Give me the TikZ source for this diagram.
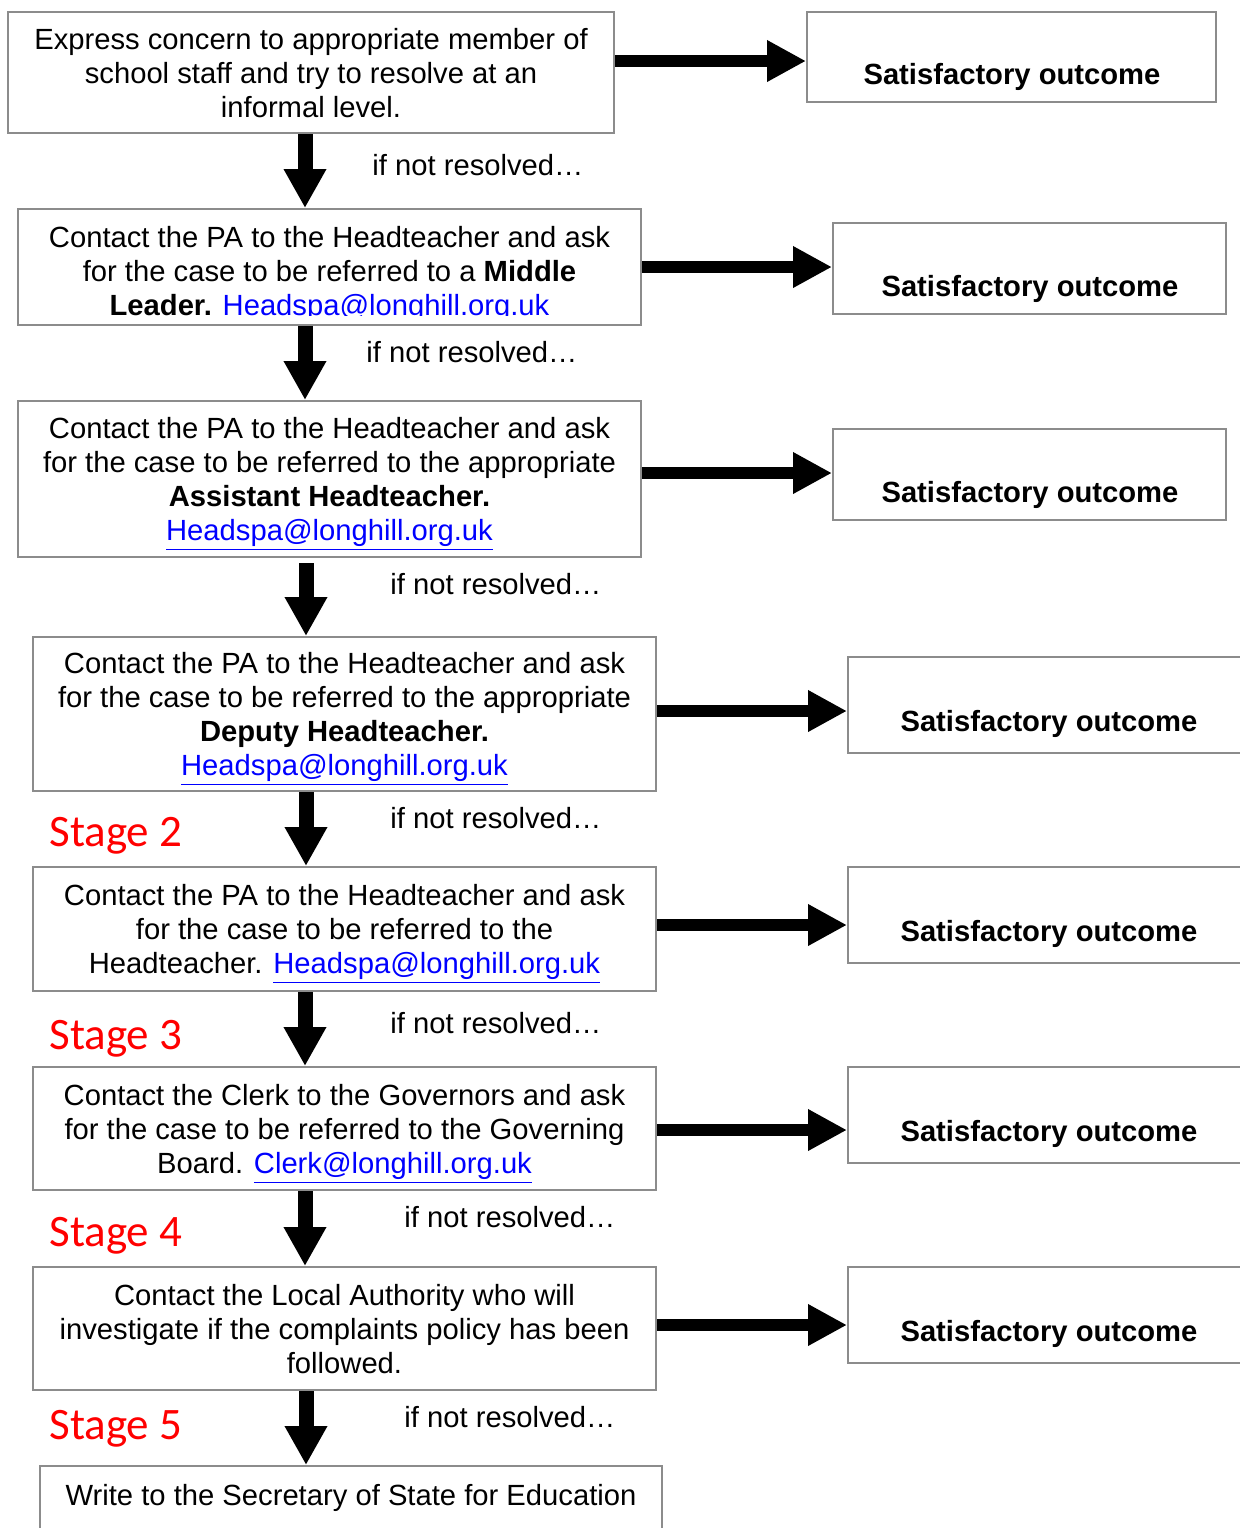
\documentclass[tikz,border=0pt]{standalone}
\usepackage{fontspec}
\setmainfont{Liberation Sans}
\newfontfamily\stagefont{Carlito}
\usetikzlibrary{arrows.meta}
\definecolor{boxgray}{HTML}{8C8C8C}
\definecolor{linkblue}{HTML}{0000FF}
\definecolor{stagered}{HTML}{FF0000}
\newcommand{\mailto}[1]{\textcolor{linkblue}{\underline{#1}}}
\begin{document}
\begin{tikzpicture}[x=0.5pt,y=-0.5pt,
  box/.style={draw=boxgray, line width=1pt, inner sep=0pt, align=center, text depth=-2pt, font=\fontsize{14.6}{17}\selectfont},
  boxtxt/.style={inner sep=0pt, align=center, font=\fontsize{14.6}{17}\selectfont},
  txt/.style={inner sep=0pt, font=\fontsize{14.6}{17}\selectfont},
  sattxt/.style={inner sep=0pt, font=\fontsize{14.6}{17}\selectfont\bfseries},
  stagelbl/.style={inner sep=0pt, anchor=base west, text=stagered, font=\stagefont\fontsize{22.5}{27}\selectfont},
  resolved/.style={inner sep=0pt, anchor=west, font=\fontsize{14.6}{17}\selectfont},
  rarrow/.style={line width=6pt, -{Triangle[width=19.5pt,length=19.5pt]}},
  darrow/.style={line width=7.5pt, -{Triangle[width=20pt,length=19.5pt]}}
]
\useasboundingbox (0,0) rectangle (1240,1528);
\clip (0,0) rectangle (1240,1528);

% main boxes
\node[box, minimum width=303pt, minimum height=60.5pt] (b1) at (311,72.5)
  {Express concern to appropriate member of\\school staff and try to resolve at an\\informal level.};
\node[box, minimum width=311.5pt, minimum height=58pt] (b2) at (329.5,267) {};
\begin{scope}
  \clip (0,200) rectangle (1240,315);
  \node[boxtxt] (t2) at (329.5,274)
    {Contact the PA to the Headteacher and ask\\for the case to be referred to a \textbf{Middle}\\\textbf{Leader.} \textcolor{linkblue}{Headspa@longhill.org.uk}};
\end{scope}
\node[box, minimum width=311.5pt, minimum height=78pt] (b3) at (329.5,479)
  {Contact the PA to the Headteacher and ask\\for the case to be referred to the appropriate\\\textbf{Assistant Headteacher.}\\\mailto{Headspa@longhill.org.uk}};
\node[box, minimum width=311.5pt, minimum height=77pt] (b4) at (344.5,714)
  {Contact the PA to the Headteacher and ask\\for the case to be referred to the appropriate\\\textbf{Deputy Headteacher.}\\\mailto{Headspa@longhill.org.uk}};
\node[box, minimum width=311.5pt, minimum height=62pt] (b5) at (344.5,929)
  {Contact the PA to the Headteacher and ask\\for the case to be referred to the\\Headteacher. \mailto{Headspa@longhill.org.uk}};
\node[box, minimum width=311.5pt, minimum height=61.5pt] (b6) at (344.5,1128.5)
  {Contact the Clerk to the Governors and ask\\for the case to be referred to the Governing\\Board. \mailto{Clerk@longhill.org.uk}};
\node[box, minimum width=311.5pt, minimum height=61.5pt] (b7) at (344.5,1328.5)
  {Contact the Local Authority who will\\investigate if the complaints policy has been\\followed.};
\node[box, minimum width=311pt, minimum height=47pt] (b8) at (351,1513) {};
\node[txt] (t8) at (351,1498) {Write to the Secretary of State for Education};

% satisfactory boxes
\node[box, minimum width=204.5pt, minimum height=45pt] (s1) at (1011.5,57) {};
\node[box, minimum width=196.5pt, minimum height=45.5pt] (s2) at (1029.5,268.5) {};
\node[box, minimum width=196.5pt, minimum height=45.5pt] (s3) at (1029.5,474.5) {};
\node[box, minimum width=201pt, minimum height=48pt] (s4) at (1049,705) {};
\node[box, minimum width=201pt, minimum height=48pt] (s5) at (1049,915) {};
\node[box, minimum width=201pt, minimum height=48pt] (s6) at (1049,1115) {};
\node[box, minimum width=201pt, minimum height=48pt] (s7) at (1049,1315) {};
\node[sattxt] (st1) at (1012,77) {Satisfactory outcome};
\node[sattxt] (st2) at (1030,289) {Satisfactory outcome};
\node[sattxt] (st3) at (1030,495) {Satisfactory outcome};
\node[sattxt] (st4) at (1049,724) {Satisfactory outcome};
\node[sattxt] (st5) at (1049,934) {Satisfactory outcome};
\node[sattxt] (st6) at (1049,1134) {Satisfactory outcome};
\node[sattxt] (st7) at (1049,1334) {Satisfactory outcome};

% horizontal arrow levels
\coordinate (h1) at (0,61);
\coordinate (h2) at (0,267);
\coordinate (h3) at (0,473);
\coordinate (h4) at (0,711);
\coordinate (h5) at (0,925);
\coordinate (h6) at (0,1130);
\coordinate (h7) at (0,1325);
\draw[rarrow] (b1.east |- h1) -- (s1.west |- h1);
\draw[rarrow] (b2.east |- h2) -- (s2.west |- h2);
\draw[rarrow] (b3.east |- h3) -- (s3.west |- h3);
\draw[rarrow] (b4.east |- h4) -- (s4.west |- h4);
\draw[rarrow] (b5.east |- h5) -- (s5.west |- h5);
\draw[rarrow] (b6.east |- h6) -- (s6.west |- h6);
\draw[rarrow] (b7.east |- h7) -- (s7.west |- h7);

% vertical arrows
\coordinate (v) at (305,0);
\coordinate (vv) at (306,0);
\draw[darrow] (b1.south -| v) -- (b2.north -| v);
\draw[darrow] (b2.south -| v) -- (b3.north -| v);
\draw[darrow] ([yshift=-2.5pt]b3.south -| vv) -- (b4.north -| vv);
\draw[darrow] (b4.south -| vv) -- (b5.north -| vv);
\draw[darrow] (b5.south -| v) -- (b6.north -| v);
\draw[darrow] (b6.south -| v) -- (b7.north -| v);
\draw[darrow] (b7.south -| vv) -- (b8.north -| vv);

% if not resolved labels
\node[resolved] (r1) at (372,165) {if not resolved…};
\node[resolved] (r2) at (366,352) {if not resolved…};
\node[resolved] (r3) at (390,584) {if not resolved…};
\node[resolved] (r4) at (390,818) {if not resolved…};
\node[resolved] (r5) at (390,1023) {if not resolved…};
\node[resolved] (r6) at (404,1217) {if not resolved…};
\node[resolved] (r7) at (404,1417) {if not resolved…};

% stage labels
\node[stagelbl] (g2) at (49,846) {Stage 2};
\node[stagelbl] (g3) at (49,1049) {Stage 3};
\node[stagelbl] (g4) at (49,1246) {Stage 4};
\node[stagelbl] (g5) at (49,1439) {Stage 5};
\end{tikzpicture}
\end{document}
